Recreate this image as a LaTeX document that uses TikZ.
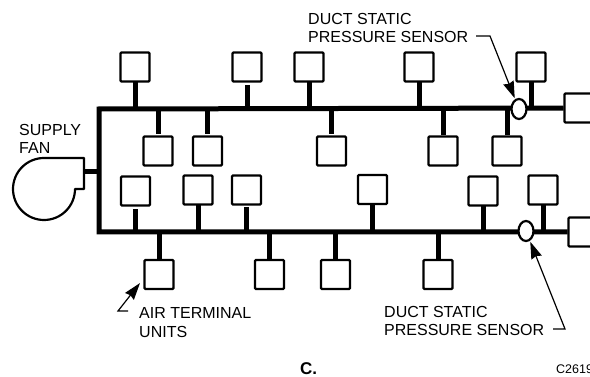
\documentclass[tikz,border=0pt]{standalone}
\usepackage{fontspec}
\setmainfont{Liberation Sans}
\usetikzlibrary{arrows.meta, shapes.geometric}

\begin{document}
\begin{tikzpicture}[
    x=1pt, y=-1pt,
    unit/.style={
      draw, rounded corners=1pt, minimum width=29pt, minimum height=29pt,
      line width=2.2pt, outer sep=1pt, inner sep=0pt
    },
    duct/.style={line width=5pt},
    sensor/.style={
      draw, ellipse, fill=white, minimum width=15pt, minimum height=20pt,
      line width=2.2pt, inner sep=0pt, outer sep=2pt
    },
    pointer/.style={line width=1.2pt, -{Stealth[length=17pt, width=11pt, inset=1.5pt]}},
    caption/.style={font=\fontsize{16}{18.5}\selectfont, align=left, anchor=west, inner sep=0pt},
]
    \useasboundingbox (0,0) rectangle (590,377);

    \coordinate (uppermain) at (99,109);
    \coordinate (lowermain) at (99,232);

    % Ends
    \node[unit] (upperend) at (579,108) {};
    \node[unit] (lowerend) at (583,232) {};
    \draw[duct, line join=miter] (upperend) -- (uppermain) -- (lowermain) -- (lowerend);

    % Units on the upper duct
    \foreach \n/\x/\g in {a/135/0, b/247/3, c/309/0, d/419/0, e/531/0} {
      \node[unit] (above\n) at (\x,67) {};
      \draw[duct, shorten <=\g pt] (above\n) -- (above\n |- uppermain);
    }
    \foreach \n/\x/\g in {a/158/1.5, b/207.5/1.5, c/331.5/1.5, d/443/0, e/507/0} {
      \node[unit] (below\n) at (\x,151) {};
      \draw[duct, shorten <=\g pt] (below\n) -- (below\n |- uppermain);
    }

    % Units on the lower duct
    \foreach \n/\x/\y/\g in {a/135.5/191/3, b/198/190/0, c/246.5/190/2, d/372.5/189.5/0, e/483/191/0, f/543/190/0} {
      \node[unit] (inner\n) at (\x,\y) {};
      \draw[duct, shorten <=\g pt] (inner\n) -- (inner\n |- lowermain);
    }
    \foreach \n/\x in {a/159, b/269.5, c/335.5, d/438} {
      \node[unit] (outer\n) at (\x,274.5) {};
      \draw[duct] (outer\n) -- (outer\n |- lowermain);
    }

    % Fan
    \coordinate (fanoutlet) at (84,172);
    \draw[line width=2.2pt, line join=round] (44,158) -- (84,158) -- (84,189) -- (75,189)
      arc[start angle=0, end angle=-270, radius=31pt] -- cycle;
    \draw[duct] (fanoutlet) -- (fanoutlet -| uppermain);
    \node[caption] (fanlabel) at (19,139) {SUPPLY\\FAN};

    % Sensors
    \node[sensor] (uppersensor) at (519,109) {};
    \node[sensor] (lowersensor) at (526,231) {};

    % Labels
    \node[caption] (upperlabel) at (308,28) {DUCT STATIC\\PRESSURE SENSOR};
    \node[caption] (lowerlabel) at (384,321) {DUCT STATIC\\PRESSURE SENSOR};
    \node[caption] (airlabel) at (139,322.5) {AIR TERMINAL\\UNITS};
    \node[font=\fontsize{17}{19}\selectfont\bfseries, anchor=west, inner sep=0pt] (partlabel) at (300,369) {C.};
    \node[font=\fontsize{12.5}{14}\selectfont, anchor=west, inner sep=0pt] (figlabel) at (556,369.5) {C2619};

    % Pointers
    \coordinate (upperstart) at (476,36);
    \coordinate (upperbend) at (490,36);
    \coordinate (lowerstart) at (553,329);
    \coordinate (lowerbend) at (565,329);
    \coordinate (airstart) at (128,311);
    \coordinate (airbend) at (118,311);
    \coordinate (airtip) at (140,283);
    \draw[pointer] (upperstart) -- (upperbend) -- (uppersensor);
    \draw[pointer] (lowerstart) -- (lowerbend) -- (lowersensor);
    \draw[pointer] (airstart) -- (airbend) -- (airtip);
\end{tikzpicture}
\end{document}
